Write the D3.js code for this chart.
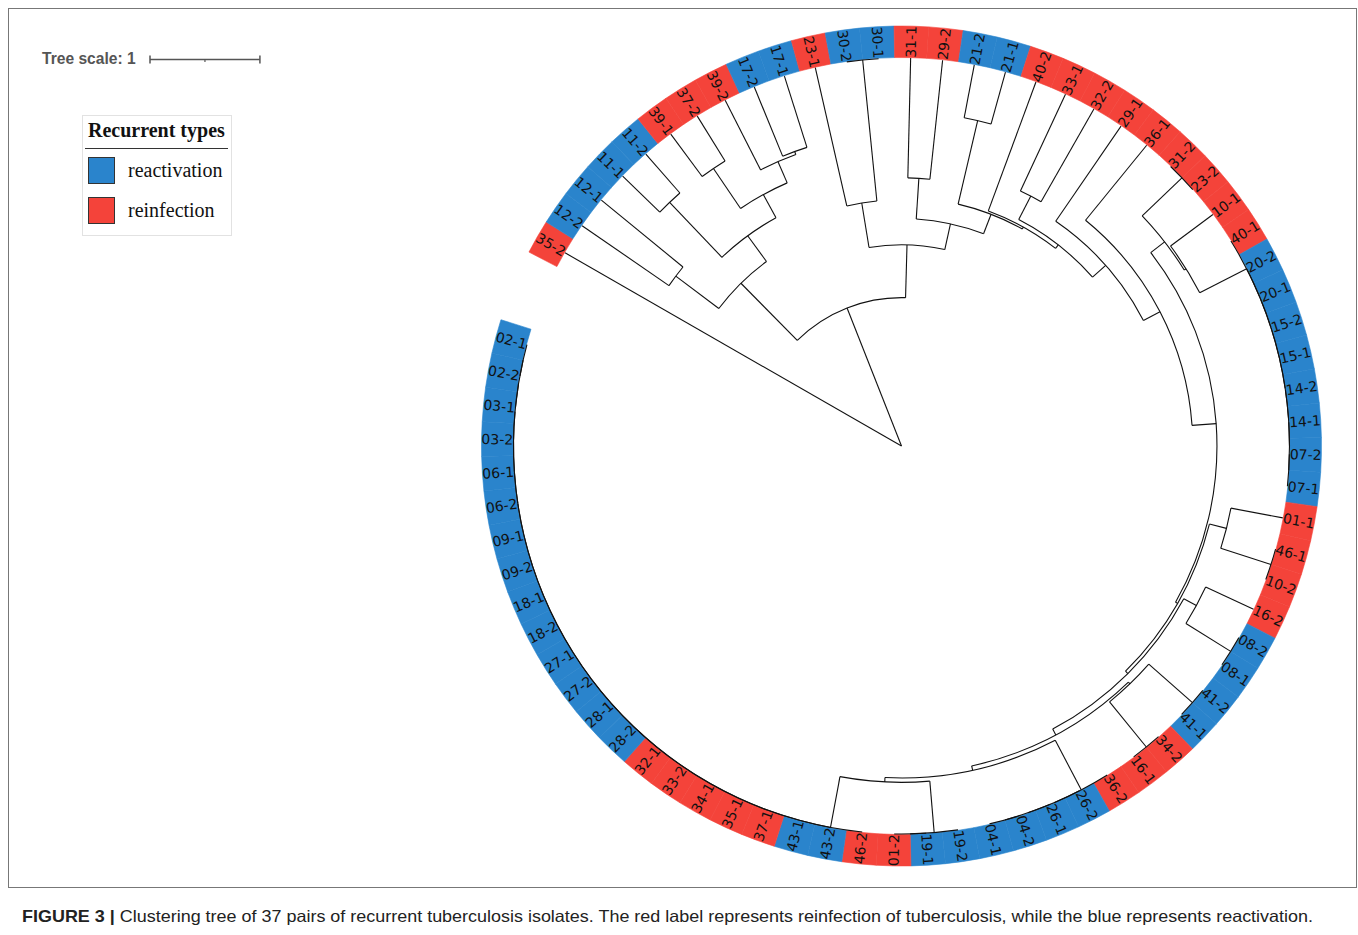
<!DOCTYPE html>
<html>
<head>
<meta charset="utf-8">
<script src="https://cdn.jsdelivr.net/npm/d3@7"></script>
<style>
  body { margin: 0; background: #fff; }
  svg { display: block; }
</style>
</head>
<body>
<div id="chart"></div>
<script>
// Isolates in ring order (clockwise, starting after the gap on the left)
const isolates = [
  "35-2","12-2","12-1","11-1","11-2","39-1","37-2","39-2","17-2","17-1",
  "23-1","30-2","30-1","31-1","29-2","21-2","21-1","40-2","33-1","32-2",
  "29-1","36-1","31-2","23-2","10-1","40-1","20-2","20-1","15-2","15-1",
  "14-2","14-1","07-2","07-1","01-1","46-1","10-2","16-2","08-2","08-1",
  "41-2","41-1","34-2","16-1","36-2","26-2","26-1","04-2","04-1","19-2",
  "19-1","01-2","46-2","43-2","43-1","37-1","35-1","34-1","33-2","32-1",
  "28-2","28-1","27-2","27-1","18-2","18-1","09-2","09-1","06-2","06-1",
  "03-2","03-1","02-2","02-1"
];

// Recurrent type of each isolate, same order as above
const recurrentType = [
  "reinfection","reactivation","reactivation","reactivation","reactivation","reinfection","reinfection","reinfection","reactivation","reactivation",
  "reinfection","reactivation","reactivation","reinfection","reinfection","reactivation","reactivation","reinfection","reinfection","reinfection",
  "reinfection","reinfection","reinfection","reinfection","reinfection","reinfection","reactivation","reactivation","reactivation","reactivation",
  "reactivation","reactivation","reactivation","reactivation","reinfection","reinfection","reinfection","reinfection","reactivation","reactivation",
  "reactivation","reactivation","reinfection","reinfection","reinfection","reactivation","reactivation","reactivation","reactivation","reactivation",
  "reactivation","reinfection","reinfection","reactivation","reactivation","reinfection","reinfection","reinfection","reinfection","reinfection",
  "reactivation","reactivation","reactivation","reactivation","reactivation","reactivation","reactivation","reactivation","reactivation","reactivation",
  "reactivation","reactivation","reactivation","reactivation"
];

const legendTypes = ["reactivation", "reinfection"];
const typeColors = { reactivation: "#2a84cc", reinfection: "#f4433a" };

// Clusters: [name, height in tree units, children]
const clusters = [
  ["root", 3.53, ["35-2", "A"]],
  ["A",    2.18, ["A1", "B"]],
  ["A1",   1.45, ["A1a", "A1b"]],
  ["A1a",  0.96, ["12-2", "12-1"]],
  ["A1b",  1.16, ["N11", "A1b2"]],
  ["N11",  0.47, ["11-1", "11-2"]],
  ["A1b2", 0.92, ["N39", "Y"]],
  ["N39",  0.48, ["39-1", "37-2"]],
  ["Y",    0.71, ["39-2", "N17"]],
  ["N17",  0.68, ["17-2", "17-1"]],
  ["B",    1.70, ["C", "B2"]],
  ["C",    1.29, ["23-1", "N30"]],
  ["B2",   1.46, ["D", "P"]],
  ["D",    1.09, ["31-1", "29-2"]],
  ["P",    1.27, ["N21", "P1"]],
  ["N21",  0.49, ["21-2", "21-1"]],
  ["P1",   1.25, ["40-2", "P2"]],
  ["P2",   1.21, ["G", "P3"]],
  ["G",    0.97, ["33-1", "32-2"]],
  ["P3",   1.05, ["29-1", "P4"]],
  ["P4",   0.88, ["36-1", "P5"]],
  ["P5",   0.66, ["K", "L1"]],
  ["K",    0.50, ["N31", "M"]],
  ["M",    0.48, ["10-1", "Z1"]],
  ["L1",   0.64, ["N01", "L2"]],
  ["N01",  0.48, ["01-1", "N46"]],
  ["L2",   0.61, ["N16", "L3"]],
  ["N16",  0.48, ["16-2", "N08"]],
  ["L3",   0.55, ["N41", "L4"]],
  ["N41",  0.53, ["N412", "N34"]],
  ["L4",   0.51, ["X26", "L5"]],
  ["L5",   0.47, ["X19", "X43"]]
];

// Identical isolates (distance 0), chained as in the tree file
const identicalGroups = {
  N30:  ["30-2","30-1"],
  N31:  ["31-2","23-2"],
  Z1:   ["40-1","20-2","20-1","15-2","15-1","14-2","14-1","07-2","07-1"],
  N46:  ["46-1","10-2"],
  N08:  ["08-2","08-1"],
  N412: ["41-2","41-1"],
  N34:  ["34-2","16-1"],
  X26:  ["36-2","26-2","26-1","04-2","04-1"],
  X19:  ["19-2","19-1","01-2"],
  X43:  ["46-2","43-2","43-1","37-1","35-1","34-1","33-2","32-1","28-2","28-1","27-2",
         "27-1","18-2","18-1","09-2","09-1","06-2","06-1","03-2","03-1","02-2","02-1"]
};

const treeScaleUnits = 1;

const width = 1358, height = 935;
const cx = 901.5, cy = 446;
const ringInner = 388.5, ringOuter = 420;
const tipRadius = 388;

const svg = d3.select("#chart").append("svg")
  .attr("width", width)
  .attr("height", height);

// frame
svg.append("rect")
  .attr("x", 8.5).attr("y", 8.5)
  .attr("width", 1348).attr("height", 879)
  .attr("fill", "none")
  .attr("stroke", "#777")
  .attr("stroke-width", 1);

// --- build hierarchy ---
const clusterMap = new Map(clusters.map(c => [c[0], c]));
function build(name) {
  if (clusterMap.has(name)) {
    const [n, h, kids] = clusterMap.get(name);
    return { name: n, height: h, children: kids.map(build) };
  }
  if (identicalGroups[name]) return chain(identicalGroups[name]);
  return { name: name, height: 0 };
}
function chain(list) {
  if (list.length === 1) return build(list[0]);
  return { name: "", height: 0, children: [build(list[0]), chain(list.slice(1))] };
}
const root = d3.hierarchy(build("root"));

// angle (degrees, clockwise from 12 o'clock): 350 degree arc
const angleScale = d3.scaleBand()
  .domain(isolates)
  .range([297.5, 647.5]);
const half = angleScale.bandwidth() / 2;

const rScale = d3.scaleLinear()
  .domain([root.data.height, 0])
  .range([0, tipRadius]);

root.eachAfter(d => {
  if (d.children) {
    d.angle = (d.children[0].angle + d.children[d.children.length - 1].angle) / 2;
  } else {
    d.angle = angleScale(d.data.name) + half;
  }
  d.r = rScale(d.data.height);
});

const rad = a => a * Math.PI / 180;
const pt = (r, a) => [cx + r * Math.sin(rad(a)), cy - r * Math.cos(rad(a))];

// --- ring of recurrent types ---
const ringArc = d3.arc()
  .innerRadius(ringInner)
  .outerRadius(ringOuter);

const ring = svg.append("g").attr("transform", `translate(${cx},${cy})`);
ring.selectAll("path.cell")
  .data(isolates)
  .enter().append("path")
  .attr("class", "cell")
  .attr("d", d => ringArc({ startAngle: rad(angleScale(d)), endAngle: rad(angleScale(d) + angleScale.bandwidth()) }))
  .attr("fill", (d, i) => typeColors[recurrentType[i]])
  .attr("stroke", (d, i) => typeColors[recurrentType[i]])
  .attr("stroke-width", 0.6);

// --- tree branches ---
const tree = svg.append("g")
  .attr("fill", "none")
  .attr("stroke", "#111")
  .attr("stroke-width", 1.1);

tree.selectAll("line.branch")
  .data(root.descendants().filter(d => d.parent))
  .enter().append("line")
  .attr("class", "branch")
  .attr("x1", d => pt(d.parent.r, d.angle)[0])
  .attr("y1", d => pt(d.parent.r, d.angle)[1])
  .attr("x2", d => pt(d.r, d.angle)[0])
  .attr("y2", d => pt(d.r, d.angle)[1]);

tree.selectAll("path.arc")
  .data(root.descendants().filter(d => d.children && d.r > 0))
  .enter().append("path")
  .attr("class", "arc")
  .attr("d", d => {
    const a0 = d.children[0].angle;
    const a1 = d.children[d.children.length - 1].angle;
    const p = d3.path();
    const s = pt(d.r, a0);
    p.moveTo(s[0], s[1]);
    p.arc(cx, cy, d.r, rad(a0 - 90), rad(a1 - 90), false);
    return p.toString();
  });

// --- ring labels ---
svg.append("g")
  .selectAll("text")
  .data(isolates)
  .enter().append("text")
  .attr("transform", d => {
    const a = angleScale(d) + half;
    const [x, y] = pt((ringInner + ringOuter) / 2, a);
    const m = ((a % 360) + 360) % 360;
    const rot = m < 180 ? m - 90 : m + 90;
    return `translate(${x},${y}) rotate(${rot})`;
  })
  .attr("text-anchor", "middle")
  .attr("dominant-baseline", "central")
  .style("font-family", "'DejaVu Sans', sans-serif")
  .style("font-size", "14px")
  .style("fill", "#111")
  .text(d => d);

// --- tree scale ---
const scaleG = svg.append("g");
scaleG.append("text")
  .attr("x", 42).attr("y", 64)
  .style("font-family", "'Liberation Sans', Arial, sans-serif")
  .style("font-weight", "bold")
  .style("font-size", "15.6px")
  .style("fill", "#555")
  .text("Tree scale: " + treeScaleUnits);

const barLen = rScale(0) - rScale(treeScaleUnits);
const bx0 = 150, by = 59.5;
scaleG.append("line")
  .attr("x1", bx0).attr("x2", bx0 + barLen)
  .attr("y1", by).attr("y2", by)
  .attr("stroke", "#555").attr("stroke-width", 1.5);
[bx0, bx0 + barLen].forEach(x => {
  scaleG.append("line")
    .attr("x1", x).attr("x2", x)
    .attr("y1", by - 4).attr("y2", by + 4)
    .attr("stroke", "#555").attr("stroke-width", 1.5);
});
scaleG.append("line")
  .attr("x1", bx0 + barLen / 2).attr("x2", bx0 + barLen / 2)
  .attr("y1", by).attr("y2", by + 2.5)
  .attr("stroke", "#555").attr("stroke-width", 1.2);

// --- legend ---
const legend = svg.append("g");
legend.append("rect")
  .attr("x", 82.5).attr("y", 115.5)
  .attr("width", 149).attr("height", 120)
  .attr("fill", "#fff")
  .attr("stroke", "#e2e2e2");
legend.append("text")
  .attr("x", 88).attr("y", 137)
  .style("font-family", "'Liberation Serif', 'Times New Roman', serif")
  .style("font-weight", "bold")
  .style("font-size", "20px")
  .style("fill", "#111")
  .text("Recurrent types");
legend.append("line")
  .attr("x1", 85).attr("x2", 228)
  .attr("y1", 148.5).attr("y2", 148.5)
  .attr("stroke", "#333").attr("stroke-width", 1);

const item = legend.selectAll("g.item")
  .data(legendTypes)
  .enter().append("g")
  .attr("class", "item")
  .attr("transform", (d, i) => `translate(88, ${157 + i * 40})`);
item.append("rect")
  .attr("x", 0.5).attr("y", 0.5)
  .attr("width", 26).attr("height", 26)
  .attr("fill", d => typeColors[d])
  .attr("stroke", "#333").attr("stroke-width", 1);
item.append("text")
  .attr("x", 40).attr("y", 20)
  .style("font-family", "'Liberation Serif', 'Times New Roman', serif")
  .style("font-size", "20px")
  .style("fill", "#111")
  .text(d => d);

// --- caption ---
const cap = svg.append("text")
  .attr("x", 22).attr("y", 922)
  .style("font-family", "'Liberation Sans', Arial, sans-serif")
  .style("font-size", "16.5px")
  .style("fill", "#222");
cap.append("tspan").style("font-weight", "bold").text("FIGURE 3 | ");
cap.append("tspan").text("Clustering tree of 37 pairs of recurrent tuberculosis isolates. The red label represents reinfection of tuberculosis, while the blue represents reactivation.");
cap.attr("textLength", 1291).attr("lengthAdjust", "spacingAndGlyphs");
</script>
</body>
</html>
